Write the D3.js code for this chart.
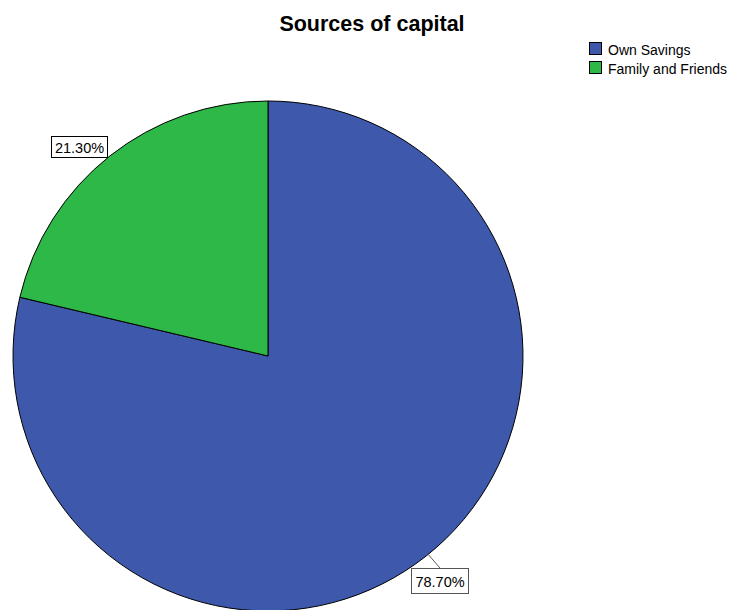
<!DOCTYPE html>
<html>
<head>
<meta charset="utf-8">
<script src="https://cdn.jsdelivr.net/npm/d3@7"></script>
<style>
  html, body { margin: 0; padding: 0; background: #fff; }
  svg { display: block; font-family: "Liberation Sans", Arial, sans-serif; }
</style>
</head>
<body>
<svg id="chart" width="732" height="610"></svg>
<script>
// Sources of capital, share of respondents
const categories = ["Own Savings", "Family and Friends"];
const percents = [78.70, 21.30];
const colors = ["#3E58AC", "#2EB848"];

const svg = d3.select("#chart");
const cx = 268, cy = 356, r = 255;

svg.append("text")
  .attr("x", 372).attr("y", 30.5)
  .attr("text-anchor", "middle")
  .attr("font-size", 21.5).attr("font-weight", "bold")
  .attr("fill", "#000")
  .text("Sources of capital");

const pie = d3.pie().sort(null).value(d => d);
const arcs = pie(percents);
const arc = d3.arc().innerRadius(0).outerRadius(r);

const g = svg.append("g").attr("transform", `translate(${cx},${cy})`);
g.selectAll("path.slice")
  .data(arcs)
  .join("path")
  .attr("class", "slice")
  .attr("d", arc)
  .attr("fill", (d, i) => colors[i])
  .attr("stroke", "#000")
  .attr("stroke-width", 1);

// Boxed value callouts (box offsets relative to the pie centre)
const callouts = [
  { bx: 143, by: 212, bw: 57, bh: 25, stroke: "#555", leader: [159, 197, 172, 212] },
  { bx: -217, by: -220, bw: 56, bh: 21, stroke: "#000", leader: null }
];
arcs.forEach((d, i) => {
  const c = callouts[i];
  const lg = g.append("g");
  if (c.leader) {
    lg.append("line")
      .attr("x1", c.leader[0]).attr("y1", c.leader[1])
      .attr("x2", c.leader[2]).attr("y2", c.leader[3])
      .attr("stroke", "#555").attr("stroke-width", 1);
  }
  lg.append("rect")
    .attr("x", c.bx + 0.5).attr("y", c.by + 0.5)
    .attr("width", c.bw).attr("height", c.bh)
    .attr("fill", "#fff")
    .attr("stroke", c.stroke)
    .attr("stroke-width", 1);
  lg.append("text")
    .attr("x", c.bx + c.bw / 2 + 0.5).attr("y", c.by + c.bh / 2 + 6)
    .attr("text-anchor", "middle")
    .attr("font-size", 14.5).attr("fill", "#000")
    .text(percents[i].toFixed(2) + "%");
});

// Legend
const legend = svg.append("g").attr("transform", "translate(589,42)");
categories.forEach((c, i) => {
  const row = legend.append("g").attr("transform", `translate(0,${i * 19})`);
  row.append("rect")
    .attr("x", 0.5).attr("y", 0.5)
    .attr("width", 12).attr("height", 12)
    .attr("fill", colors[i]).attr("stroke", "#000").attr("stroke-width", 1);
  row.append("text")
    .attr("x", 19).attr("y", 12.5)
    .attr("font-size", 14).attr("fill", "#000")
    .text(c);
});
</script>
</body>
</html>
